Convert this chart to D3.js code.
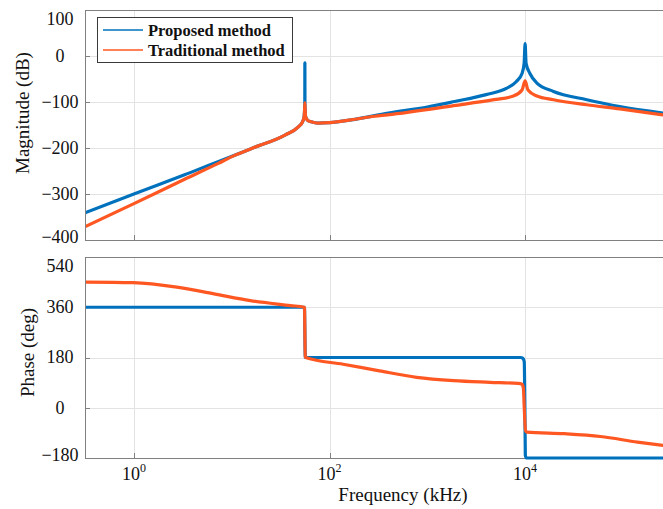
<!DOCTYPE html>
<html><head><meta charset="utf-8">
<script src="https://cdn.jsdelivr.net/npm/d3@7"></script>
<style>
html,body{margin:0;padding:0;background:#fff;}
svg{display:block;font-family:"Liberation Serif","Times New Roman",serif;}
</style></head>
<body><svg id="c" width="663" height="509"></svg>
<script>
// ---------------- data ----------------
const seriesNames = ["Proposed method", "Traditional method"];

// magnitude (dB) — Proposed method
const magFreqProposed = [0.316, 1, 3.3, 10.7, 16, 35, 48, 53, 55, 55.6, 55.9, 56, 56.1, 56.4, 57, 60, 65, 76, 100, 166, 400, 1000, 1900, 4000, 6500, 8100, 9300, 9770, 10000, 10230, 11200, 13200, 19500, 42700, 93000, 257000];
const magProposed     = [-341, -300, -258, -216, -201, -172, -154, -143, -132, -118, -104, -15, -104, -118, -132, -140, -143, -146, -145, -139, -124, -111, -99, -84, -70, -56, -38, -16, 27, -16, -38, -59, -77, -95, -110, -124];

// magnitude (dB) — Traditional method
const magFreqTraditional = [0.316, 1, 3.3, 7.2, 10.7, 16, 35, 48, 53, 55, 55.6, 56, 56.4, 57, 60, 65, 76, 100, 166, 290, 390, 1860, 4800, 7600, 9300, 10000, 10700, 13200, 19500, 42700, 93000, 257000];
const magTraditional     = [-371, -321, -268, -234, -216, -201, -172, -154, -143, -132, -118, -102, -118, -132, -140, -143, -146, -145, -139, -131, -128, -108, -95, -87, -74, -54, -74, -87, -95, -106, -115, -128];

// phase (deg) — Proposed method
const phaseFreqProposed = [0.316, 55.4, 56.6, 9000, 9500, 9800, 9950, 10050, 10300, 257000];
const phaseProposed     = [360, 360, 180, 180, 177, 165, 0, -170, -180, -180];

// phase (deg) — Traditional method
const phaseFreqTraditional = [0.316, 0.98, 2.75, 6.6, 15.5, 40, 55, 55.5, 56.5, 58, 138, 324, 776, 1860, 4370, 8500, 9300, 9600, 9800, 10100, 10400, 25100, 58900, 141000, 257000];
const phaseTraditional     = [450, 448, 432, 408, 384, 366, 360, 358, 182, 179, 156, 132, 109, 97, 91, 87, 84, 70, 0, -82, -87, -93, -103, -123, -135];

// ticks
const xTickValues = [1, 100, 10000];
const xTickExponents = ["0", "2", "4"];
const magTicks = [100, 0, -100, -200, -300, -400];
const phaseTicks = [540, 360, 180, 0, -180];

// ---------------- drawing ----------------
const svg = d3.select("#c");
const colors = ["#0072BD", "#FF5722"];
const axisColor = "#808080", gridColor = "#e3e3e3";
const L = 85, R = 663;

const x = d3.scaleLog().domain([0.3162, 257000]).range([L, R]);

const panels = [
  {top: 10, bottom: 240, domain: [-400, 100], ticks: magTicks, label: "Magnitude (dB)", labelX: 22,
   series: [[magFreqProposed, magProposed], [magFreqTraditional, magTraditional]]},
  {top: 257, bottom: 458, domain: [-180, 540], ticks: phaseTicks, label: "Phase (deg)", labelX: 27,
   series: [[phaseFreqProposed, phaseProposed], [phaseFreqTraditional, phaseTraditional]]}
];

panels.forEach((p, pi) => {
  const y = d3.scaleLinear().domain(p.domain).range([p.bottom, p.top]);
  const g = svg.append("g");
  // grid
  g.selectAll(".hg").data(p.ticks).join("line")
    .attr("x1", L).attr("x2", R)
    .attr("y1", d => Math.round(y(d)) + 0.5).attr("y2", d => Math.round(y(d)) + 0.5)
    .attr("stroke", gridColor).attr("stroke-width", 1);
  g.selectAll(".vg").data(xTickValues).join("line")
    .attr("x1", d => Math.round(x(d)) + 0.5).attr("x2", d => Math.round(x(d)) + 0.5)
    .attr("y1", p.top).attr("y2", p.bottom)
    .attr("stroke", gridColor).attr("stroke-width", 1);

  // axes frame
  g.append("line").attr("x1", L + 0.5).attr("x2", L + 0.5).attr("y1", p.top).attr("y2", p.bottom + 0.5)
    .attr("stroke", axisColor);
  g.append("line").attr("x1", L).attr("x2", R).attr("y1", p.bottom + 0.5).attr("y2", p.bottom + 0.5)
    .attr("stroke", axisColor);
  g.append("line").attr("x1", L).attr("x2", R).attr("y1", p.top + 0.5).attr("y2", p.top + 0.5)
    .attr("stroke", axisColor);
  // tick marks
  g.selectAll(".yt").data(p.ticks).join("line")
    .attr("x1", L).attr("x2", L + 5)
    .attr("y1", d => Math.round(y(d)) + 0.5).attr("y2", d => Math.round(y(d)) + 0.5)
    .attr("stroke", axisColor);
  g.selectAll(".xt").data(xTickValues).join("line")
    .attr("x1", d => Math.round(x(d)) + 0.5).attr("x2", d => Math.round(x(d)) + 0.5)
    .attr("y1", p.bottom).attr("y2", p.bottom - 5)
    .attr("stroke", axisColor);

  // y tick labels (centered like the original)
  g.selectAll(".yl").data(p.ticks).join("text")
    .attr("x", 60)
    .attr("y", d => Math.min(Math.max(y(d), p.top + 9), p.bottom - 3))
    .attr("dy", "0.33em")
    .attr("text-anchor", "middle")
    .attr("font-size", 18).attr("fill", "#111")
    .text(d => d < 0 ? "\u2212" + Math.abs(d) : String(d));

  // y label
  g.append("text")
    .attr("transform", `translate(${p.labelX},${(p.top + p.bottom) / 2 - (pi === 0 ? 12 : 5)}) rotate(-90)`)
    .attr("text-anchor", "middle").attr("dy", "0.35em")
    .attr("font-size", 19).attr("fill", "#111")
    .text(p.label);

  // clip
  const cid = "clip" + pi;
  svg.append("clipPath").attr("id", cid).append("rect")
    .attr("x", L + 1).attr("y", p.top - 4).attr("width", R - L).attr("height", p.bottom - p.top + 8);

  const line = d3.line().x(d => x(d[0])).y(d => y(d[1])).curve(d3.curveMonotoneX);
  p.series.forEach((s, si) => {
    const pts = s[0].map((f, i) => [f, s[1][i]]);
    g.append("path").attr("clip-path", `url(#${cid})`)
      .attr("d", line(pts))
      .attr("fill", "none").attr("stroke", colors[si]).attr("stroke-width", 3.2)
      .attr("stroke-linejoin", "round").attr("stroke-linecap", "round");
  });

  // x tick labels on bottom panel
  if (pi === 1) {
    const xl = g.selectAll(".xl").data(xTickValues).join("text")
      .attr("x", d => x(d)).attr("y", 480)
      .attr("text-anchor", "middle").attr("font-size", 18).attr("fill", "#111");
    xl.append("tspan").text("10");
    xl.append("tspan").attr("dy", -8).attr("font-size", 12).text((d, i) => xTickExponents[i]);
    g.append("text").attr("x", (L + 663) / 2 + 29).attr("y", 501)
      .attr("text-anchor", "middle").attr("font-size", 19).attr("fill", "#111")
      .text("Frequency (kHz)");
  }
});

// legend
const lg = svg.append("g");
lg.append("rect").attr("x", 97.5).attr("y", 17.5).attr("width", 195).attr("height", 45)
  .attr("fill", "#fff").attr("stroke", "#3a3a3a").attr("stroke-width", 1);
seriesNames.forEach((n, i) => {
  const yy = 30 + i * 20;
  lg.append("line").attr("x1", 103).attr("x2", 143).attr("y1", yy).attr("y2", yy)
    .attr("stroke", colors[i]).attr("stroke-width", 1.5);
  lg.append("text").attr("x", 148).attr("y", yy + 5.5)
    .attr("font-size", 16.5).attr("font-weight", "bold").attr("fill", "#111").text(n);
});
</script></body></html>
